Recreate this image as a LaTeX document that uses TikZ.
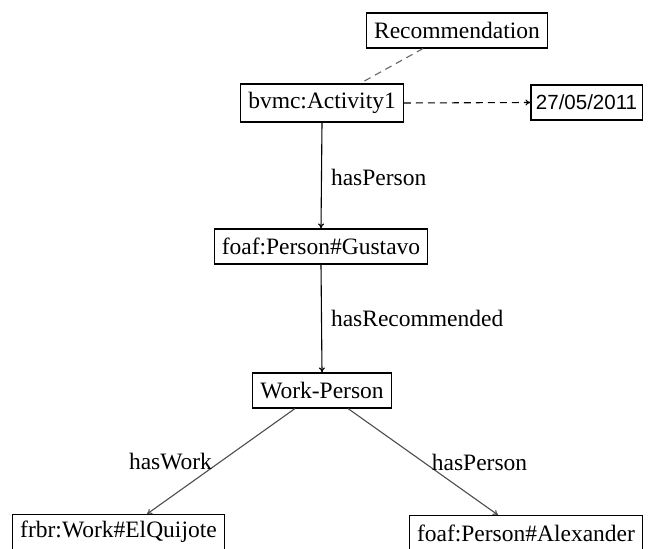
\documentclass[tikz,border=0pt]{standalone}
\usepackage{fontspec}
\setmainfont{Liberation Serif}
\newfontfamily\datefont{Liberation Sans}
\usetikzlibrary{arrows.meta,calc}
\tikzset{
  box/.style={draw, line width=1.1pt, inner xsep=7.5pt, inner ysep=0pt, minimum height=35pt,
    font=\fontsize{23.5}{26}\selectfont},
  lbl/.style={font=\fontsize{23.5}{26}\selectfont, inner sep=0pt},
  conn/.style={line width=1.1pt, -{To[length=5pt,width=6pt]}},
  diag/.style={conn, draw=black!70},
  dashline/.style={line width=1.1pt, dash pattern=on 7pt off 5pt}
}
\begin{document}
\begin{tikzpicture}[x=1pt,y=-1pt]
\useasboundingbox (0,0) rectangle (652,548);
\node[box] (rec) at (457,30.5) {Recommendation};
\node[box, minimum height=38pt] (act) at (322,103) {bvmc:Activity1};
\node[box, font=\datefont\fontsize{20.5}{22}\selectfont, inner xsep=5pt] (date) at (586.5,102.5) {27/05/2011};
\node[box] (gus) at (321,246.5) {foaf:Person\#Gustavo};
\node[box] (wp) at (322,390.5) {Work-Person};
\node[box, anchor=north] (frbr) at (118.5,514) {frbr:Work\#ElQuijote};
\node[box, anchor=north] (alex) at (526,515) {foaf:Person\#Alexander};

\draw[dashline, draw=black!60] ($(rec.south)+(-34,0)$) -- ($(act.north)+(38,0)$);
\draw[dashline, -{To[length=5pt,width=6pt]}] (act.east) -- (date.west);
\draw[conn] (act.south) -- (gus.north)
  node[lbl, pos=0.52, anchor=west, xshift=9pt] (l1) {hasPerson};
\draw[conn] (gus.south) -- (wp.north)
  node[lbl, pos=0.5, anchor=west, xshift=9pt] (l2) {hasRecommended};
\draw[diag] ($(wp.south)+(-27,0)$) -- ($(frbr.north)+(28.5,0)$);
\draw[diag] ($(wp.south)+(26,0)$) -- ($(alex.north)+(-28,0)$);
\node[lbl] (l3) at (170.5,462) {hasWork};
\node[lbl] (l4) at (479.5,462) {hasPerson};
\end{tikzpicture}
\end{document}
